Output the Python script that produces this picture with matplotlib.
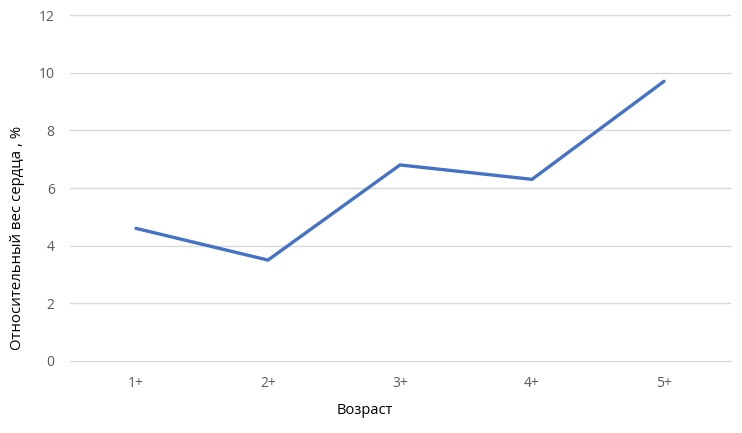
import matplotlib
matplotlib.use("Agg")
import matplotlib.pyplot as plt

categories = ["1+", "2+", "3+", "4+", "5+"]
values = [4.6, 3.5, 6.8, 6.3, 9.7]
yticks = [0, 2, 4, 6, 8, 10, 12]

plt.rcParams['font.family'] = ['Open Sans', 'DejaVu Sans']

fig = plt.figure(figsize=(7.42, 4.33), dpi=100)
ax = fig.add_axes([70/742, 1-361/433, 660/742, 346/433])

x = list(range(len(categories)))
ax.plot(x, values, color="#4472C4", linewidth=2.4, solid_capstyle="round", solid_joinstyle="miter", zorder=3)

ax.set_xlim(-0.5, len(categories)-0.5)
ax.set_ylim(0, 12)
ax.set_yticks(yticks)
ax.set_xticks(x)
ax.set_xticklabels(categories)
ax.grid(axis="y", color="#D9D9D9", linewidth=1)
for gl in ax.get_ygridlines():
    gl.set_clip_on(False)
ax.set_axisbelow(True)
for s in ax.spines.values():
    s.set_visible(False)
ax.tick_params(axis="both", length=0, colors="#595959", labelsize=10)
ax.tick_params(axis="y", pad=11)
ax.tick_params(axis="x", pad=11)

fig.text(365/742, 1-410/433, "Возраст", fontsize=10.5, color="black", ha="center", va="center")
fig.text(18/742, 1-238/433, "Относительный вес сердца , %", fontsize=10.8, color="black",
         ha="center", va="center", rotation=90)

fig.savefig("out.png", dpi=100)
